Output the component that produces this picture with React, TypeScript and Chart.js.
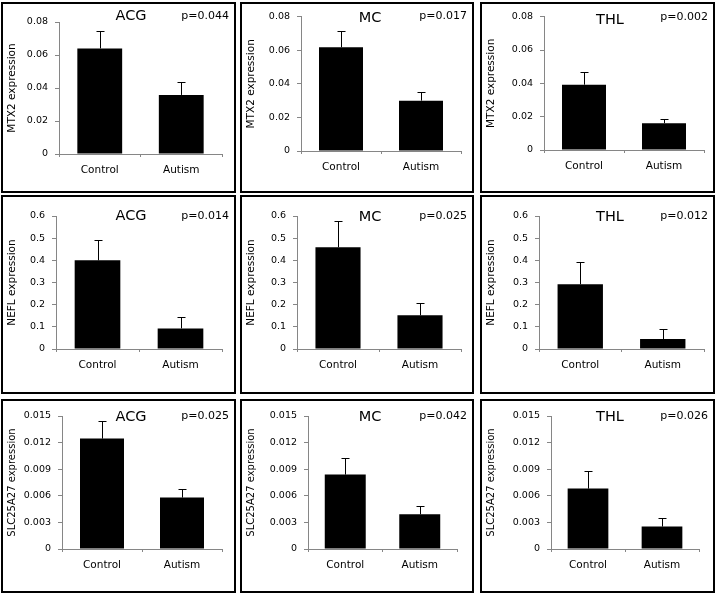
import React, { useEffect, useRef } from "react";
import { Chart, registerables } from "chart.js";

Chart.register(...registerables);
Chart.defaults.font.family = '"DejaVu Sans", Verdana, sans-serif';

// ---------- data ----------
const categories = ["Control", "Autism"];
const regions = ["ACG", "MC", "THL"];
const genes = ["MTX2", "NEFL", "SLC25A27"];
const yMaxByGene = [0.08, 0.6, 0.015];
const yStepByGene = [0.02, 0.1, 0.003];
const yDecimalsByGene = [2, 1, 3];

// [region][category]
const mtx2Means = [[0.064, 0.0358], [0.0618, 0.03], [0.0392, 0.0161]];
const mtx2Errors = [[0.0107, 0.0078], [0.0098, 0.0053], [0.0074, 0.0028]];
const neflMeans = [[0.4, 0.093], [0.459, 0.152], [0.292, 0.045]];
const neflErrors = [[0.09, 0.053], [0.117, 0.057], [0.101, 0.043]];
const slcMeans = [[0.01245, 0.0058], [0.00839, 0.00391], [0.00681, 0.00253]];
const slcErrors = [[0.00203, 0.00093], [0.00191, 0.00098], [0.00195, 0.00097]];

const mtx2P = ["p=0.044", "p=0.017", "p=0.002"];
const neflP = ["p=0.014", "p=0.025", "p=0.012"];
const slcP = ["p=0.025", "p=0.042", "p=0.026"];

const meansByGene = [mtx2Means, neflMeans, slcMeans];
const errorsByGene = [mtx2Errors, neflErrors, slcErrors];
const pByGene = [mtx2P, neflP, slcP];

// ---------- layout (page pixels) ----------
const BW = 2;
const colX = [1, 240, 480];
const colW = [235, 234, 235];
const rowY = [2, 195, 399];
const rowH = [191, 199, 194];
// [axisX, plotTop, plotRight, zeroY] per panel
const plotBoxes = [
  [59, 22, 222, 154], [301, 15, 461, 151], [544, 16, 704, 150],
  [56, 216, 222, 349], [297, 216, 461, 349], [539, 216, 704, 349],
  [62, 416, 222, 549], [308, 416, 457, 549], [551, 416, 699, 549],
];
const titleYs = [16, 18, 20, 216, 217, 217, 417, 417, 417];
const pYs = [16, 16, 17, 216, 216, 216, 416, 416, 416];

const AXIS = "#868686";

function Panel({ gi, ri }: { gi: number; ri: number }) {
  const ref = useRef<HTMLCanvasElement>(null);
  const px = colX[ri], py = rowY[gi], pw = colW[ri], ph = rowH[gi];
  const cw = pw - 2 * BW, ch = ph - 2 * BW;

  useEffect(() => {
    const idx = gi * 3 + ri;
    const [ax, top, right, zero] = plotBoxes[idx];
    const ox = px + BW, oy = py + BW;
    const leftW = ax - ox;
    const topPad = top - oy;
    const rightPad = cw - (right - ox);
    const bottomH = ch - (zero - oy);
    const means = meansByGene[gi][ri];
    const errs = errorsByGene[gi][ri];
    const dec = yDecimalsByGene[gi];

    const extras = {
      id: "extras",
      afterDatasetsDraw(chart: any) {
        const ctx = chart.ctx;
        const meta = chart.getDatasetMeta(0);
        const ys = chart.scales.y;
        ctx.save();
        ctx.strokeStyle = "#000";
        ctx.lineWidth = 1;
        meta.data.forEach((bar: any, i: number) => {
          const x = Math.round(bar.x) + 0.5;
          const y0 = ys.getPixelForValue(means[i]);
          const y1 = Math.round(ys.getPixelForValue(means[i] + errs[i])) + 0.5;
          ctx.beginPath();
          ctx.moveTo(x, y0);
          ctx.lineTo(x, y1);
          ctx.moveTo(x - 4, y1);
          ctx.lineTo(x + 4, y1);
          ctx.stroke();
        });
        ctx.fillStyle = "#000";
        ctx.font = '14.5px "DejaVu Sans"';
        ctx.textAlign = "center";
        ctx.textBaseline = "middle";
        ctx.fillText(regions[ri], px + 130 - ox, titleYs[idx] - oy);
        ctx.font = '11px "DejaVu Sans"';
        ctx.textAlign = "right";
        ctx.fillText(pByGene[gi][ri], px + pw - 7 - ox, pYs[idx] - oy);
        ctx.restore();
      },
    };

    const chart = new Chart(ref.current as HTMLCanvasElement, {
      type: "bar",
      data: {
        labels: categories,
        datasets: [
          {
            data: means,
            backgroundColor: "#000",
            borderWidth: 0,
            barPercentage: 0.55,
            categoryPercentage: 1,
          },
        ],
      },
      options: {
        animation: false,
        responsive: false,
        maintainAspectRatio: false,
        events: [],
        layout: { padding: { left: 0, top: topPad, right: rightPad, bottom: 0 } },
        plugins: { legend: { display: false }, tooltip: { enabled: false } },
        scales: {
          x: {
            grid: {
              display: true,
              drawOnChartArea: false,
              offset: true,
              tickLength: 3,
              color: AXIS,
            },
            border: { color: AXIS },
            ticks: { color: "#000", font: { size: 10.5 }, padding: 7, maxRotation: 0 },
            afterFit: (s: any) => {
              s.height = bottomH;
            },
          },
          y: {
            min: 0,
            max: yMaxByGene[gi],
            ticks: {
              stepSize: yStepByGene[gi],
              color: "#000",
              font: { size: 9.5 },
              padding: 7,
              callback: (v: any) => (Math.abs(Number(v)) < 1e-9 ? "0" : Number(v).toFixed(dec)),
            },
            grid: { drawOnChartArea: false, tickLength: 4, color: AXIS },
            border: { color: AXIS },
            title: {
              display: true,
              text: genes[gi] + " expression",
              color: "#000",
              font: { size: gi === 2 ? 10 : 10.5 },
              padding: { top: 3, bottom: 0 },
            },
            afterFit: (s: any) => {
              s.width = leftW;
            },
          },
        },
      },
      plugins: [extras],
    } as any);
    return () => chart.destroy();
  }, []);

  return (
    <div
      style={{
        position: "absolute",
        left: px,
        top: py,
        width: pw,
        height: ph,
        border: `${BW}px solid #000`,
        boxSizing: "border-box",
        background: "#fff",
      }}
    >
      <canvas
        ref={ref}
        width={cw}
        height={ch}
        style={{ position: "absolute", left: 0, top: 0, width: cw, height: ch }}
      />
    </div>
  );
}

export default function App() {
  const panels = [];
  for (let gi = 0; gi < 3; gi++) {
    for (let ri = 0; ri < 3; ri++) {
      panels.push(<Panel key={gi * 3 + ri} gi={gi} ri={ri} />);
    }
  }
  return (
    <div
      style={{
        position: "absolute",
        left: 0,
        top: 0,
        width: 716,
        height: 594,
        background: "#fff",
        overflow: "hidden",
      }}
    >
      {panels}
    </div>
  );
}
